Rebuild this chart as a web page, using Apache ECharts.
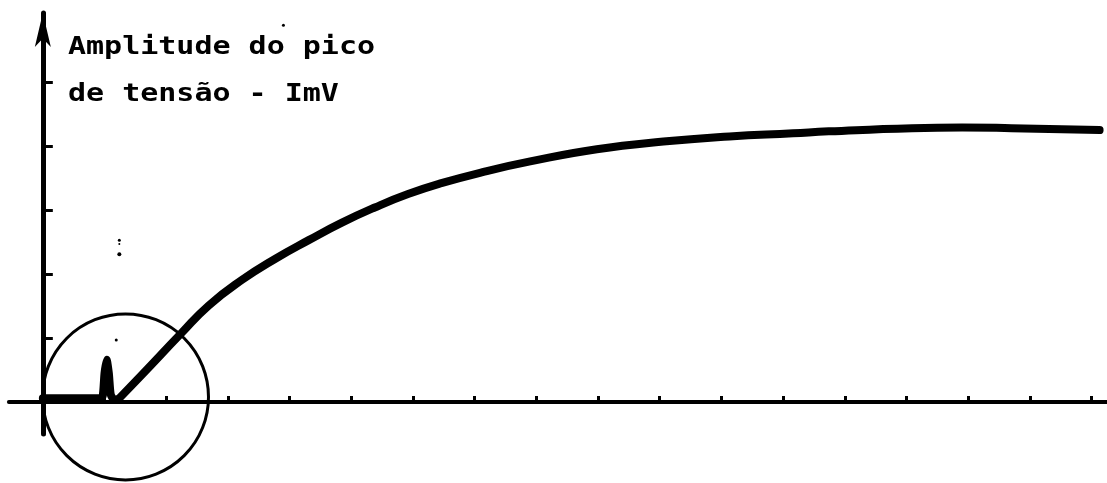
<!DOCTYPE html>
<html>
<head>
<meta charset="utf-8">
<script src="https://cdn.jsdelivr.net/npm/echarts@6/dist/echarts.min.js"></script>
<style>
html,body{margin:0;padding:0;background:#fff;}
#chart{width:1107px;height:483px;}
</style>
</head>
<body>
<div id="chart"></div>
<script>
// ---- data ----
var xTickValues = [1,2,3,4,5,6,7,8,9,10,11,12,13,14,15,16,17];
var yTickValues = [1,2,3,4,5];
var titleLines = ['Amplitude do pico', 'de tensão - ImV'];
// baseline with the small spike (x in divisions, y in divisions)
var spikeX = [0, 0.92, 0.97, 1.0, 1.035, 1.07, 1.1, 1.15, 1.22];
var spikeY = [0.06, 0.06, 0.09, 0.45, 0.66, 0.45, 0.12, 0.04, 0.04];
// main rising curve
var curveX = [1.22, 1.61, 2.24, 2.69, 3.23, 3.77, 4.31, 4.84, 5.38, 5.92, 6.46, 7.16, 7.90, 8.98, 10.06, 11.13, 12.16, 12.74, 14.09, 14.90, 15.70, 17.13];
var curveY = [0.04, 0.43, 1.07, 1.51, 1.91, 2.24, 2.53, 2.80, 3.04, 3.25, 3.42, 3.60, 3.76, 3.95, 4.07, 4.15, 4.20, 4.23, 4.28, 4.29, 4.28, 4.25];
// highlighted region (circle)
var circleCenter = [1.34, 0.08];
// stray specks in the scan
var speckX = [1.24, 1.24, 1.24, 1.19, 3.9];
var speckY = [2.53, 2.47, 2.31, 0.97, 5.89];
var speckSize = [3, 2, 4, 3, 3];

function zip(a, b){ return a.map(function(v,i){ return [v, b[i]]; }); }

var chart = echarts.init(document.getElementById('chart'));
chart.setOption({
  backgroundColor: '#ffffff',
  animation: false,
  grid: { left: 8.9, right: -5.5, top: 13, bottom: 49, containLabel: false },
  xAxis: {
    type: 'value', min: -0.55, max: 17.25,
    axisLine: { onZero: true, lineStyle: { color: '#000', width: 4 } },
    axisTick: { show: true, inside: true, length: 6, customValues: xTickValues, lineStyle: { color: '#000', width: 3 } },
    axisLabel: { show: false },
    splitLine: { show: false }
  },
  yAxis: {
    type: 'value', min: -0.5, max: 6.08,
    axisLine: { onZero: true, symbol: ['none', 'arrow'], symbolSize: [12, 34], lineStyle: { color: '#000', width: 5 } },
    axisTick: { show: true, inside: true, length: 10, customValues: yTickValues, lineStyle: { color: '#000', width: 3 } },
    axisLabel: { show: false },
    splitLine: { show: false }
  },
  graphic: titleLines.map(function(t, i){
    return {
      type: 'text', x: 68, y: 48 + i * 47, scaleX: 1.25, scaleY: 1,
      style: { text: t, fill: '#000', font: 'bold 24px "DejaVu Sans Mono"', textAlign: 'left', textVerticalAlign: 'middle' }
    };
  }),
  series: [
    {
      type: 'line', data: zip(spikeX, spikeY), showSymbol: false, symbol: 'none', smooth: 0.2,
      lineStyle: { color: '#000', width: 8, cap: 'round', join: 'round' }, clip: false
    },
    {
      type: 'line', data: zip(curveX, curveY), showSymbol: false, symbol: 'none', smooth: 0.5,
      lineStyle: { color: '#000', width: 8, cap: 'round', join: 'round' }, clip: false
    },
    {
      type: 'scatter', data: [circleCenter], symbol: 'circle', symbolSize: 166, clip: false,
      itemStyle: { color: 'rgba(0,0,0,0)', borderColor: '#000', borderWidth: 3, opacity: 1 }, silent: true
    },
    {
      type: 'scatter', data: zip(speckX, speckY).map(function(p, i){ return { value: p, symbolSize: speckSize[i] }; }),
      symbol: 'circle', clip: false, silent: true,
      itemStyle: { color: '#000', opacity: 1 }
    }
  ]
});
</script>
</body>
</html>
